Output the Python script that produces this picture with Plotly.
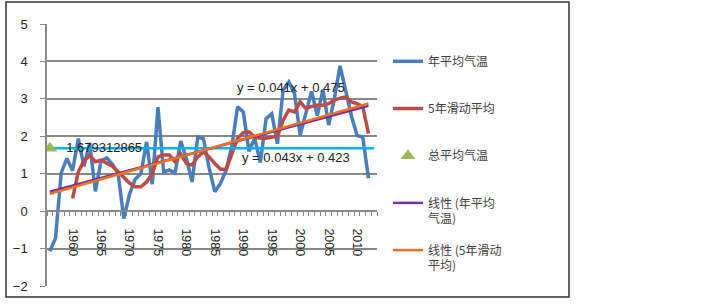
import plotly.graph_objects as go

# ---------------- data ----------------
years = list(range(1956, 2013))
annual_temp = [-1.07, -0.72, 1.02, 1.41, 1.08, 1.94, 1.2, 1.82, 0.53, 1.35,
               1.42, 1.25, 1.0, -0.2, 0.45, 0.85, 1.0, 1.85, 0.72, 2.78,
               1.05, 1.1, 1.02, 1.87, 1.41, 0.78, 1.98, 1.93, 1.15, 0.52,
               0.74, 1.1, 1.75, 2.79, 2.65, 1.6, 1.95, 1.3, 2.47, 2.6,
               1.8, 3.23, 3.45, 3.14, 2.03, 2.6, 3.2, 2.55, 3.25, 2.3,
               3.0, 3.88, 3.2, 2.55, 2.02, 1.98, 0.88]
ma_years = list(range(1960, 2013))
moving_avg5 = [0.34, 1.05, 1.35, 1.49, 1.32, 1.36, 1.28, 1.2, 1.05, 0.9,
               0.75, 0.65, 0.65, 0.78, 1.0, 1.45, 1.5, 1.5, 1.32, 1.53,
               1.27, 1.23, 1.45, 1.58, 1.45, 1.27, 1.12, 1.12, 1.55, 1.95,
               2.1, 2.12, 1.98, 1.95, 1.95, 1.97, 2.0, 2.43, 2.7, 2.65,
               2.92, 2.74, 2.8, 2.83, 2.83, 2.87, 2.97, 3.02, 3.05, 2.92,
               2.87, 2.79, 2.07]
total_mean = 1.679312865
total_mean_year = 1956
trend_annual = (0.041, 0.475)   # slope, intercept (x = 1..N)
trend_ma = (0.043, 0.423)
tick_years = [1960, 1965, 1970, 1975, 1980, 1985, 1990, 1995, 2000, 2005, 2010]
names = ["年平均气温", "5年滑动平均", "总平均气温", "线性 (年平均<br>气温)", "线性 (5年滑动<br>平均)"]

# ---------------- style ----------------
W, H = 722, 304
ML, MR, MT, MB = 47, 345, 24, 18
X0, X1 = 1955.5, 2013.5
Y0, Y1 = -2, 5
C_BLUE = "#4A7EBB"
C_RED = "#BE4B48"
C_GREEN = "#9BBB59"
C_CYAN = "#00B0F0"
C_PURPLE = "#7030A0"
C_ORANGE = "#F07020"
GRID = "#888888"
FONT = "Liberation Sans"
CJK = "Noto Sans CJK SC"

n = len(years)
k_all = list(range(1, n + 1))

fig = go.Figure()

fig.add_trace(go.Scatter(x=years, y=annual_temp, mode="lines", name=names[0],
                         legendgroup="a", line=dict(color=C_BLUE, width=3.5)))
fig.add_trace(go.Scatter(x=ma_years, y=moving_avg5, mode="lines", name=names[1],
                         legendgroup="b", line=dict(color=C_RED, width=3.5)))
fig.add_trace(go.Scatter(x=[total_mean_year], y=[total_mean], mode="markers+text",
                         name=names[2], legendgroup="c",
                         marker=dict(symbol="triangle-up", size=13, color=C_GREEN),
                         text=["  " + f"{total_mean:.9f}"], textposition="middle right",
                         textfont=dict(family=FONT, size=13, color="#222222"),
                         error_x=dict(type="data", symmetric=False, array=[X1 - 0.5 - total_mean_year],
                                      arrayminus=[total_mean_year - X0], color=C_CYAN,
                                      thickness=2.5, width=0)))
# trendlines
ta = [trend_annual[0] * k + trend_annual[1] for k in (k_all[0], k_all[-1])]
tm = [trend_ma[0] * k + trend_ma[1] for k in (k_all[0], k_all[-1])]
fig.add_trace(go.Scatter(x=[years[0], years[-1]], y=ta, mode="lines", name=names[3],
                         legendgroup="d", line=dict(color=C_PURPLE, width=2.5)))
fig.add_trace(go.Scatter(x=[years[0], years[-1]], y=tm, mode="lines", name=names[4],
                         legendgroup="e", line=dict(color=C_ORANGE, width=2.5)))

# legend names padded to 2 lines for equal spacing
for i, tr in enumerate(fig.data):
    if "<br>" not in tr.name:
        tr.name = tr.name + "<br> "

fig.add_annotation(x=1998.4, y=3.30, text="y = 0.041x + 0.475", showarrow=False,
                   font=dict(family=FONT, size=13, color="#222222"))
fig.add_annotation(x=1999.3, y=1.43, text="y = 0.043x + 0.423", showarrow=False,
                   font=dict(family=FONT, size=13, color="#222222"))

# outer frame
pw = W - ML - MR
ph = H - MT - MB
def px_x(p):
    return (p - ML) / pw
def px_y(p):
    return (H - MB - p) / ph
fig.add_shape(type="rect", xref="paper", yref="paper",
              x0=px_x(6), x1=px_x(569), y0=px_y(297), y1=px_y(2),
              line=dict(color="#333333", width=1.5), layer="below")

fig.update_layout(
    width=W, height=H,
    margin=dict(l=ML, r=MR, t=MT, b=MB, pad=0, autoexpand=False),
    paper_bgcolor="white", plot_bgcolor="white",
    font=dict(family=FONT, size=13, color="#222222"),
    legend=dict(x=px_x(388), y=px_y(47), xanchor="left", yanchor="top",
                font=dict(family=CJK, size=12, color="#404040"),
                tracegroupgap=13, valign="top", itemwidth=30,
                bgcolor="rgba(0,0,0,0)"),
    xaxis=dict(range=[X0, X1], anchor="free", position=(0 - Y0) / (Y1 - Y0), automargin=False,
               showgrid=False, zeroline=False, showline=True, linecolor=GRID, linewidth=1.5,
               tickmode="array", tickvals=tick_years, ticktext=[str(t) for t in tick_years],
               ticks="", tickangle=90, ticklabelstandoff=14,
               tickfont=dict(family=FONT, size=12.5, color="#222222"),
               minor=dict(tickmode="linear", tick0=X0, dtick=1, ticks="outside",
                          ticklen=4, tickcolor=GRID, tickwidth=1, showgrid=False)),
    yaxis=dict(range=[Y0, Y1], dtick=1, tick0=0, showgrid=True, gridcolor=GRID, gridwidth=1.5,
               zeroline=False, showline=True, linecolor=GRID, linewidth=1.5, automargin=False,
               ticks="outside", ticklen=5, tickcolor=GRID, ticklabelstandoff=10,
               tickfont=dict(family=FONT, size=13, color="#222222")),
)

fig.write_html("out.html", config={"displayModeBar": False},
               post_script="document.body.style.margin='0';")
